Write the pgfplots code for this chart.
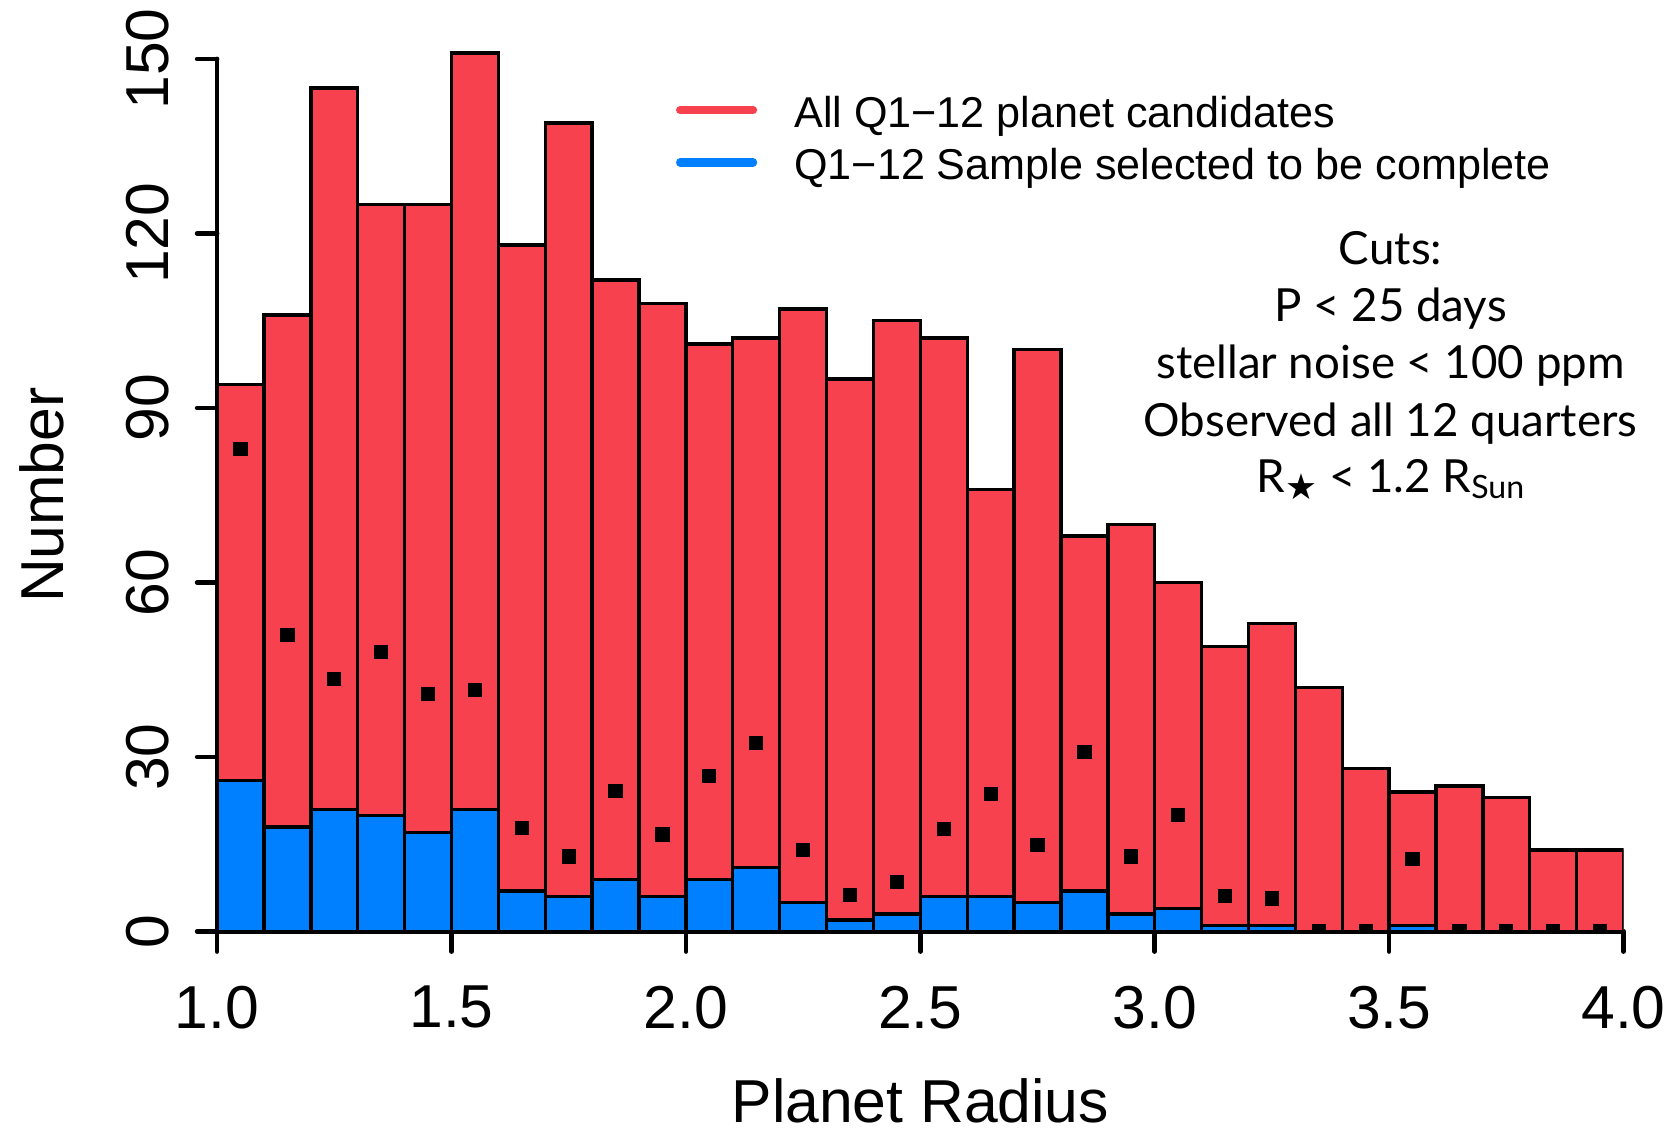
\documentclass[border=0pt]{standalone}
\usepackage{pgfplots}
\pgfplotsset{compat=1.18}
\usepackage{fontspec}
\setmainfont{Liberation Sans}
\newfontfamily\cutsfont{Lato}
\newfontfamily\symfont{DejaVu Sans}
\definecolor{barred}{RGB}{247,65,79}
\definecolor{barblue}{RGB}{0,128,255}

\begin{document}
\begin{tikzpicture}
\path[use as bounding box] (-60.9pt,-55.8pt) rectangle (409.5pt,261.3pt);
\begin{axis}[
  scale only axis, width=394.5pt, height=248.06pt,
  xmin=1, xmax=4, ymin=0, ymax=152,
  axis lines*=left,
  clip mode=individual,
  y axis line style={draw=none},
  x axis line style={line width=1.3pt, line cap=round},
  tick align=outside, major tick length=5.6pt,
  tick style={line width=1.3pt, black, line cap=round},
  xtick={1,1.5,2,2.5,3,3.5,4}, ytick={0,30,60,90,120,150},
  /pgf/number format/assume math mode=true,
  tick label style={font=\fontsize{17}{20}\selectfont, inner sep=0pt},
  xticklabel style={/pgf/number format/fixed, /pgf/number format/fixed zerofill, /pgf/number format/precision=1, anchor=north, yshift=-9.4pt},
  yticklabel style={rotate=90, anchor=south, yshift=7.8pt},
  every axis x label/.style={at={(axis cs:2.5,-32.9)}, anchor=base, font=\fontsize{17}{20}\selectfont},
  every axis y label/.style={at={(axis cs:0.6715,75)}, rotate=90, anchor=base, font=\fontsize{17}{20}\selectfont},
  xlabel={Planet Radius},
  ylabel={Number},
  clip marker paths=true,
]
% All Q1-12 planet candidates
\addplot[ybar interval, fill=barred, draw=black, line width=0.95pt] coordinates {
(1.0,94) (1.1,106) (1.2,145) (1.3,125) (1.4,125) (1.5,151) (1.6,118) (1.7,139)
(1.8,112) (1.9,108) (2.0,101) (2.1,102) (2.2,107) (2.3,95) (2.4,105) (2.5,102)
(2.6,76) (2.7,100) (2.8,68) (2.9,70) (3.0,60) (3.1,49) (3.2,53) (3.3,42)
(3.4,28) (3.5,24) (3.6,25) (3.7,23) (3.8,14) (3.9,14) (4.0,14)};
% Complete sample
\addplot[ybar interval, fill=barblue, draw=black, line width=0.95pt] coordinates {
(1.0,26) (1.1,18) (1.2,21) (1.3,20) (1.4,17) (1.5,21) (1.6,7) (1.7,6)
(1.8,9) (1.9,6) (2.0,9) (2.1,11) (2.2,5) (2.3,2) (2.4,3) (2.5,6)
(2.6,6) (2.7,5) (2.8,7) (2.9,3) (3.0,4) (3.1,1) (3.2,1) (3.3,0)
(3.4,0) (3.5,1) (3.6,0) (3.7,0) (3.8,0) (3.9,0) (4.0,0)};
% points
\addplot[only marks, mark=square*, mark size=1.8pt, black] coordinates {
(1.05,83) (1.15,51) (1.25,43.4) (1.35,48) (1.45,40.8) (1.55,41.5) (1.65,17.8) (1.75,12.9)
(1.85,24.1) (1.95,16.7) (2.05,26.7) (2.15,32.4) (2.25,14) (2.35,6.3) (2.45,8.5) (2.55,17.6)
(2.65,23.7) (2.75,14.9) (2.85,30.9) (2.95,12.9) (3.05,20) (3.15,6.1) (3.25,5.7) (3.35,0)
(3.45,0) (3.55,12.5) (3.65,0) (3.75,0) (3.85,0) (3.95,0)};
% y axis line (0 to 150)
\draw[line width=1.3pt, line cap=round] (axis cs:1,0) -- (axis cs:1,150);
% legend
\draw[barred, line width=2.4pt, line cap=round] (axis cs:1.988,141.2) -- (axis cs:2.143,141.2);
\draw[barblue, line width=2.4pt, line cap=round] (axis cs:1.988,132.2) -- (axis cs:2.143,132.2);
\node[anchor=base west, inner sep=0pt, font=\fontsize{12.1}{14}\selectfont] at (axis cs:2.2297,138.2) {All Q1\textminus12 planet candidates};
\node[anchor=base west, inner sep=0pt, font=\fontsize{12.1}{14}\selectfont] at (axis cs:2.2297,129.2) {Q1\textminus12 Sample selected to be complete};
% cuts
\begin{scope}[every node/.style={anchor=base, inner sep=0pt, font=\cutsfont\fontsize{12.8}{15}\selectfont}]
\node at (axis cs:3.503,114.7) {Cuts:};
\node at (axis cs:3.503,104.8) {P < 25 days};
\node at (axis cs:3.503,95.1) {stellar noise < 100 ppm};
\node at (axis cs:3.503,85.1) {Observed all 12 quarters};
\node at (axis cs:3.503,75.4) {R\raisebox{-0.3ex}{\symfont\fontsize{10}{11}\selectfont ★} < 1.2 R\raisebox{-0.25ex}{\fontsize{9}{10}\selectfont Sun}};
\end{scope}
\end{axis}
\end{tikzpicture}
\end{document}
